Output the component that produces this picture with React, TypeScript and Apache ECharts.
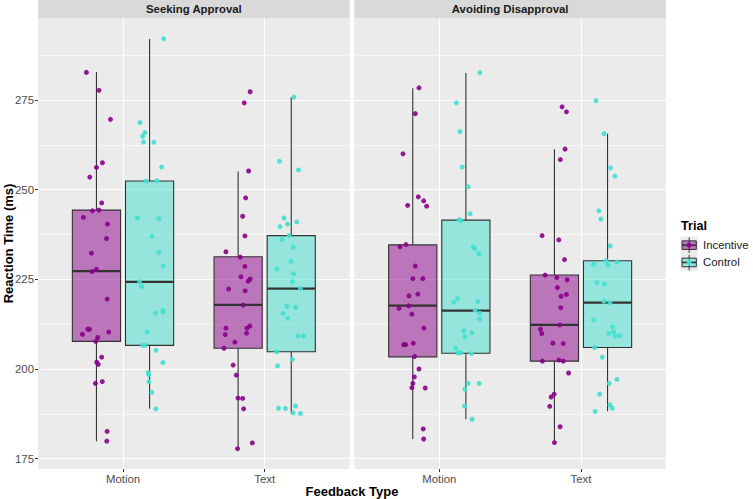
import React, { useEffect, useRef } from "react";
import * as echarts from "echarts";

const categories = ["Motion", "Text"];
const facets = ["Seeking Approval", "Avoiding Disapproval"];
const trials = ["Incentive", "Control"];

const yMajorBreaks = [175, 200, 225, 250, 275];
const yMinorBreaks = [187.5, 212.5, 237.5, 262.5, 287.5];

// box stats per category: [lower whisker, Q1, median, Q3, upper whisker]
const saIncentiveBox = [
  [179.9, 207.7, 227.3, 244.3, 282.8],
  [177.8, 205.8, 217.9, 231.3, 255.1],
];
const saControlBox = [
  [188.9, 206.6, 224.3, 252.4, 292.0],
  [187.6, 204.8, 222.4, 237.2, 275.8],
];
const adIncentiveBox = [
  [180.5, 203.4, 217.7, 234.6, 278.3],
  [179.5, 202.2, 212.3, 226.2, 261.3],
];
const adControlBox = [
  [186.0, 204.4, 216.3, 241.5, 282.5],
  [188.2, 206.0, 218.5, 230.2, 265.6],
];

// individual reaction times and their horizontal jitter (category units)
const saMotionIncentive = [282.7, 277.7, 269.6, 257.5, 256.2, 253.5, 246.3, 244.1, 244.3, 242.3, 240.4, 236.4, 232.3, 227.2, 227.8, 219.5, 211.1, 211.1, 209.7, 210.3, 208.8, 207.7, 203.3, 201.9, 201.3, 196.0, 196.5, 182.6, 179.9];
const saMotionIncentiveJitter = [-0.071, 0.018, 0.099, 0.042, 0, -0.047, 0.037, -0.028, 0.018, -0.092, 0.078, 0.071, -0.035, -0.031, 0, 0.076, -0.061, -0.049, -0.099, 0.087, 0.009, -0.005, 0.037, 0.002, 0.013, -0.007, 0.041, 0.075, 0.073];

const saMotionControl = [292.1, 268.7, 265.9, 264.9, 263.3, 263.2, 256.3, 252.4, 252.5, 242.1, 241.9, 237.0, 232.5, 228.7, 224.3, 223.0, 215.6, 216.3, 215.9, 210.4, 206.6, 206.6, 205.2, 201.8, 199.0, 198.4, 196.5, 193.5, 188.9];
const saMotionControlJitter = [0.099, -0.068, -0.033, -0.049, -0.042, 0.03, 0.085, -0.024, 0.051, -0.087, 0.066, 0.016, 0.066, 0.096, -0.071, -0.056, 0.042, 0.094, 0.096, -0.017, -0.049, -0.031, 0.045, 0.094, -0.01, -0.007, -0.005, 0.016, 0.044];

const saTextIncentive = [277.3, 274.2, 255.2, 247.7, 242.6, 237.1, 232.7, 231.2, 228.6, 225.7, 225.1, 224.5, 222.3, 221.8, 217.8, 211.4, 211.4, 212.0, 209.6, 210.0, 207.5, 205.8, 201.1, 198.3, 191.9, 191.8, 188.9, 179.4, 177.8];
const saTextIncentiveJitter = [0.085, 0.043, 0.074, 0.053, 0.032, 0.048, -0.086, 0.015, 0.048, 0.02, 0.085, 0.071, -0.067, 0.05, 0.036, -0.086, 0.062, 0.083, -0.091, 0.06, -0.023, -0.1, -0.035, -0.013, -0.001, 0.032, 0.039, 0.1, -0.004];

const saTextControl = [275.8, 257.9, 255.5, 242.1, 241.0, 240.4, 239.7, 237.2, 236.1, 234.0, 230.0, 227.9, 226.6, 224.3, 222.5, 217.5, 217.2, 215.5, 214.2, 209.2, 209.2, 204.8, 202.7, 200.9, 189.1, 189.0, 189.7, 187.8, 187.6];
const saTextControlJitter = [0.018, -0.083, 0.051, -0.051, 0.039, -0.027, -0.079, -0.016, -0.065, 0.013, -0.001, -0.102, 0.016, 0.008, 0.065, -0.03, 0.032, -0.058, -0.025, 0.048, 0.086, -0.102, 0.008, -0.097, -0.09, -0.041, 0.03, 0.013, 0.065];

const adMotionIncentive = [278.4, 271.2, 260.0, 248.0, 246.9, 245.6, 245.4, 234.7, 234.1, 228.7, 225.2, 225.2, 220.4, 220.9, 217.6, 216.9, 215.3, 211.4, 206.8, 206.8, 207.2, 203.5, 200.0, 197.8, 196.0, 194.8, 194.7, 183.3, 180.5];
const adMotionIncentiveJitter = [0.044, 0.018, -0.069, 0.039, 0.077, -0.036, 0.098, -0.048, -0.09, 0.018, 0.001, 0.071, -0.027, 0.036, -0.029, -0.097, -0.006, 0.079, -0.064, -0.05, 0.004, 0.013, 0.044, 0.011, 0.001, -0.006, 0.088, 0.074, 0.077];

const adMotionControl = [282.6, 274.2, 266.2, 256.3, 250.8, 243.3, 241.6, 241.4, 234.0, 233.6, 232.2, 218.6, 219.6, 218.8, 216.4, 215.6, 213.9, 210.6, 210.1, 209.0, 205.8, 204.5, 204.5, 204.3, 196.0, 196.0, 194.4, 189.7, 186.0];
const adMotionControlJitter = [0.099, -0.068, -0.042, -0.026, 0.016, 0.03, -0.049, -0.035, 0.051, 0.063, 0.092, -0.087, -0.059, 0.085, 0.066, 0.097, 0.097, -0.016, 0.042, -0.007, -0.071, -0.056, -0.037, 0.04, 0.016, 0.094, -0.007, -0.009, 0.044];

const adTextIncentive = [273.1, 271.7, 261.3, 258.4, 237.2, 236.0, 230.5, 226.2, 225.5, 224.9, 222.7, 220.8, 220.3, 217.1, 212.3, 211.1, 209.9, 207.2, 207.1, 202.2, 202.5, 202.2, 198.9, 193.0, 192.2, 189.6, 183.9, 179.5];
const adTextIncentiveJitter = [0.054, 0.085, 0.075, 0.042, -0.087, 0.031, 0.071, -0.066, 0.017, 0.09, 0.021, 0.085, 0.047, 0.045, 0.038, -0.099, -0.089, -0.011, 0.062, -0.085, 0.031, 0.062, 0.1, -0.002, -0.023, -0.033, 0.04, 0];

const adTextControl = [274.8, 265.6, 256.1, 253.8, 244.1, 241.8, 234.3, 229.2, 230.2, 229.0, 229.8, 224.1, 223.7, 218.9, 218.5, 213.7, 211.8, 209.9, 210.4, 209.3, 209.3, 206.0, 203.3, 197.1, 196.0, 193.0, 190.0, 189.1, 188.2];
const adTextControlJitter = [-0.082, -0.025, 0.021, 0.052, -0.061, -0.047, 0.019, -0.099, -0.011, 0.003, 0.068, -0.075, -0.023, -0.025, 0.017, -0.099, 0.035, 0.01, 0.042, 0.054, 0.087, -0.092, -0.037, 0.066, 0.012, -0.056, 0.017, 0.033, -0.087];

// [facet][trial] -> per category
const facetBoxes = [
  [saIncentiveBox, saControlBox],
  [adIncentiveBox, adControlBox],
];
const facetPoints = [
  [[saMotionIncentive, saTextIncentive], [saMotionControl, saTextControl]],
  [[adMotionIncentive, adTextIncentive], [adMotionControl, adTextControl]],
];
const facetJitter = [
  [[saMotionIncentiveJitter, saTextIncentiveJitter], [saMotionControlJitter, saTextControlJitter]],
  [[adMotionIncentiveJitter, adTextIncentiveJitter], [adMotionControlJitter, adTextControlJitter]],
];

const POINT_COLORS = ["#8B008B", "#40E0D0"];
const BOX_FILLS = ["rgba(139,0,139,0.5)", "rgba(64,224,208,0.5)"];
const DODGE = 0.1875;
const BOX_W = 0.34;
const FONT = "'Liberation Sans', Arial, Helvetica, sans-serif";
const Y_MIN = 172.13;
const Y_MAX = 297.86;

const PANEL_TOP = 18;
const PANEL_H = 451;
const PANEL_W = 311.7;
const PANEL_LEFTS = [38, 354.3];

export default function App() {
  const ref = useRef<HTMLDivElement>(null);

  useEffect(() => {
    if (!ref.current) return;
    const chart = echarts.init(ref.current, null, { renderer: "svg" });

    const grid = PANEL_LEFTS.map((left) => ({
      left,
      top: PANEL_TOP,
      width: PANEL_W,
      height: PANEL_H,
      show: true,
      backgroundColor: "#EBEBEB",
      borderWidth: 0,
      containLabel: false,
    }));

    const xAxis = facets.map((_, f) => ({
      type: "value",
      gridIndex: f,
      min: 0.4,
      max: 2.6,
      axisLine: { show: false },
      axisTick: { show: true, length: 3, lineStyle: { color: "#333333", width: 1 }, customValues: [1, 2] },
      axisLabel: {
        show: true,
        customValues: [1, 2],
        formatter: (v: number) => categories[Math.round(v) - 1] || "",
        color: "#4D4D4D",
        fontSize: 11.4,
        fontFamily: FONT,
        margin: 4,
      },
      splitLine: { show: true, lineStyle: { color: "#FFFFFF", width: 1.1 } },
    }));

    const yAxis: any[] = [];
    facets.forEach((_, f) => {
      yAxis.push({
        type: "value",
        gridIndex: f,
        min: Y_MIN,
        max: Y_MAX,
        axisLine: { show: false },
        axisTick: { show: f === 0, length: 3, lineStyle: { color: "#333333", width: 1 }, customValues: yMajorBreaks },
        axisLabel: {
          show: f === 0,
          customValues: yMajorBreaks,
          color: "#4D4D4D",
          fontSize: 11.4,
          fontFamily: FONT,
          margin: 4,
        },
        splitLine: { show: true, lineStyle: { color: "#FFFFFF", width: 1.1 } },
        z: 1,
      });
    });

    const series: any[] = [];
    facets.forEach((_, f) => {
      trials.forEach((trial, t) => {
        const offset = t === 0 ? -DODGE : DODGE;
        const boxData = categories.map((_, c) => [c + 1 + offset, ...facetBoxes[f][t][c]]);
        series.push({
          type: "custom",
          name: trial,
          xAxisIndex: f,
          yAxisIndex: f,
          z: 2,
          silent: true,
          encode: { x: 0, y: [1, 2, 3, 4, 5] },
          data: boxData,
          markLine:
            t === 0
              ? {
                  silent: true,
                  symbol: "none",
                  z: 1,
                  label: { show: false },
                  lineStyle: { color: "#FFFFFF", width: 0.55, type: "solid" },
                  data: yMinorBreaks.map((v) => ({ yAxis: v })),
                }
              : undefined,
          renderItem: (params: any, api: any) => {
            const x = api.value(0);
            const pLo = api.coord([x, api.value(1)]);
            const pQ1 = api.coord([x, api.value(2)]);
            const pMed = api.coord([x, api.value(3)]);
            const pQ3 = api.coord([x, api.value(4)]);
            const pHi = api.coord([x, api.value(5)]);
            const halfW = api.size([BOX_W, 0])[0] / 2;
            const cx = pMed[0];
            const stroke = "#333333";
            return {
              type: "group",
              children: [
                { type: "line", shape: { x1: cx, y1: pHi[1], x2: cx, y2: pQ3[1] }, style: { stroke, lineWidth: 1.1 } },
                { type: "line", shape: { x1: cx, y1: pQ1[1], x2: cx, y2: pLo[1] }, style: { stroke, lineWidth: 1.1 } },
                {
                  type: "rect",
                  shape: { x: cx - halfW, y: pQ3[1], width: 2 * halfW, height: pQ1[1] - pQ3[1] },
                  style: { fill: BOX_FILLS[t], stroke, lineWidth: 1.1 },
                },
                {
                  type: "line",
                  shape: { x1: cx - halfW, y1: pMed[1], x2: cx + halfW, y2: pMed[1] },
                  style: { stroke, lineWidth: 2.2 },
                },
              ],
            };
          },
        });
      });
    });

    facets.forEach((_, f) => {
      trials.forEach((trial, t) => {
        const offset = t === 0 ? -DODGE : DODGE;
        const data: number[][] = [];
        categories.forEach((_, c) => {
          const vals = facetPoints[f][t][c];
          const jit = facetJitter[f][t][c];
          vals.forEach((v, i) => data.push([c + 1 + offset + (jit[i] || 0), v]));
        });
        series.push({
          type: "scatter",
          name: trial,
          xAxisIndex: f,
          yAxisIndex: f,
          z: 3,
          silent: true,
          symbol: "circle",
          symbolSize: 5,
          itemStyle: { color: POINT_COLORS[t], opacity: 0.9 },
          data,
        });
      });
    });

    const graphic: any[] = [];
    facets.forEach((name, f) => {
      graphic.push({
        type: "rect",
        silent: true,
        shape: { x: PANEL_LEFTS[f], y: 0, width: PANEL_W, height: PANEL_TOP },
        style: { fill: "#D9D9D9" },
      });
      graphic.push({
        type: "text",
        silent: true,
        x: PANEL_LEFTS[f] + PANEL_W / 2,
        y: PANEL_TOP / 2,
        style: {
          text: name,
          fill: "#1A1A1A",
          font: `bold 11.4px ${FONT}`,
          align: "center",
          verticalAlign: "middle",
        },
      });
    });
    graphic.push({
      type: "text",
      silent: true,
      x: (PANEL_LEFTS[0] + PANEL_LEFTS[1] + PANEL_W) / 2,
      y: 491.5,
      style: { text: "Feedback Type", fill: "#000000", font: `bold 13px ${FONT}`, align: "center", verticalAlign: "middle" },
    });
    graphic.push({
      type: "text",
      silent: true,
      x: 8,
      y: PANEL_TOP + PANEL_H / 2,
      rotation: Math.PI / 2,
      style: { text: "Reaction Time (ms)", fill: "#000000", font: `bold 13px ${FONT}`, align: "center", verticalAlign: "middle" },
    });
    // legend
    graphic.push({
      type: "text",
      silent: true,
      x: 681,
      y: 226,
      style: { text: "Trial", fill: "#000000", font: `bold 12.6px ${FONT}`, align: "left", verticalAlign: "middle" },
    });
    trials.forEach((trial, t) => {
      const ky = 236.5 + t * 17.3;
      const kx = 680.5;
      const ks = 17.3;
      const cx = kx + ks / 2;
      const cy = ky + ks / 2;
      graphic.push({ type: "rect", silent: true, shape: { x: kx, y: ky, width: ks, height: ks }, style: { fill: "#EBEBEB" } });
      graphic.push({ type: "line", silent: true, shape: { x1: cx, y1: ky + 1, x2: cx, y2: ky + ks - 1 }, style: { stroke: "#333333", lineWidth: 1 } });
      graphic.push({
        type: "rect",
        silent: true,
        shape: { x: kx + 1.5, y: cy - 4.3, width: ks - 3, height: 8.6 },
        style: { fill: BOX_FILLS[t], stroke: "#333333", lineWidth: 1 },
      });
      graphic.push({ type: "line", silent: true, shape: { x1: kx + 1.5, y1: cy, x2: kx + ks - 1.5, y2: cy }, style: { stroke: "#333333", lineWidth: 1.6 } });
      graphic.push({ type: "circle", silent: true, shape: { cx, cy, r: 2.4 }, style: { fill: POINT_COLORS[t] } });
      graphic.push({
        type: "text",
        silent: true,
        x: 703,
        y: cy,
        style: { text: trial, fill: "#1A1A1A", font: `11.4px ${FONT}`, align: "left", verticalAlign: "middle" },
      });
    });

    chart.setOption({
      animation: false,
      backgroundColor: "#FFFFFF",
      grid,
      xAxis,
      yAxis,
      series,
      graphic,
    });

    return () => chart.dispose();
  }, []);

  return <div ref={ref} style={{ position: "absolute", left: 0, top: 0, width: 753, height: 499 }} />;
}
